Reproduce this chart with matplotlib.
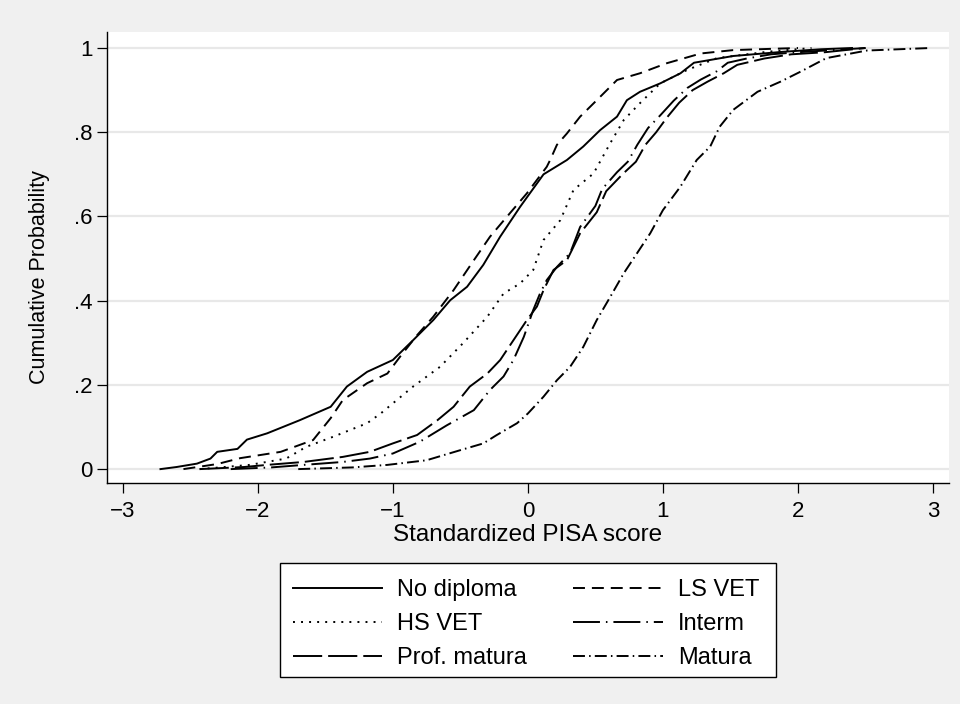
import matplotlib
matplotlib.use("Agg")
import matplotlib.pyplot as plt
from matplotlib.patches import Rectangle

plt.rcParams['font.family'] = ['Liberation Sans', 'DejaVu Sans']
plt.rcParams['lines.scale_dashes'] = False

nodip_x = [-2.72, -2.6, -2.45, -2.35, -2.3, -2.15, -2.08, -1.93, -1.69, -1.46, -1.34, -1.19, -1.0, -0.85,
           -0.70, -0.575, -0.45, -0.33, -0.205, -0.057, 0.116, 0.289, 0.41, 0.535, 0.66, 0.733, 0.83,
           0.98, 1.13, 1.23, 1.52, 1.89, 2.17, 2.4]
nodip_y = [0.0, 0.005, 0.013, 0.025, 0.041, 0.048, 0.07, 0.085, 0.116, 0.148, 0.196, 0.231, 0.259, 0.306,
           0.354, 0.401, 0.433, 0.485, 0.552, 0.623, 0.700, 0.734, 0.766, 0.805, 0.837, 0.876, 0.896,
           0.916, 0.940, 0.965, 0.981, 0.991, 0.997, 1.0]

lsvet_x = [-2.55, -2.3, -2.13, -1.83, -1.59, -1.46, -1.37, -1.19, -1.04, -0.946, -0.82, -0.70, -0.55,
           -0.40, -0.28, -0.156, -0.007, 0.14, 0.165, 0.215, 0.289, 0.387, 0.51, 0.66, 0.83, 1.03, 1.28,
           1.52, 1.8, 2.0]
lsvet_y = [0.0, 0.012, 0.026, 0.041, 0.069, 0.121, 0.164, 0.204, 0.227, 0.267, 0.318, 0.362, 0.425,
           0.496, 0.552, 0.599, 0.655, 0.718, 0.734, 0.770, 0.797, 0.837, 0.876, 0.924, 0.940, 0.964, 0.987,
           0.995, 0.998, 1.0]

hsvet_x = [-2.43, -2.06, -1.79, -1.64, -1.44, -1.19, -1.09, -0.85, -0.65, -0.48, -0.30, -0.18, -0.057,
           0.04, 0.09, 0.116, 0.24, 0.338, 0.486, 0.61, 0.71, 0.83, 0.98, 1.18, 1.40, 1.77, 2.1]
hsvet_y = [0.0, 0.01, 0.025, 0.053, 0.077, 0.109, 0.132, 0.196, 0.243, 0.299, 0.362, 0.417, 0.441,
           0.473, 0.52, 0.544, 0.591, 0.663, 0.702, 0.774, 0.829, 0.869, 0.916, 0.948, 0.976, 0.991, 1.0]

interm_x = [-2.2, -1.9, -1.66, -1.37, -1.17, -1.0, -0.80, -0.60, -0.40, -0.28, -0.18, -0.107, -0.03,
            0.04, 0.09, 0.14, 0.215, 0.313, 0.387, 0.50, 0.55, 0.66, 0.74, 0.81, 0.89, 0.98, 1.08, 1.18,
            1.28, 1.40, 1.48, 1.62, 1.8, 2.0, 2.3, 2.5]
interm_y = [0.0, 0.004, 0.01, 0.017, 0.025, 0.037, 0.065, 0.104, 0.140, 0.188, 0.22, 0.259, 0.314,
            0.378, 0.417, 0.449, 0.48, 0.513, 0.575, 0.625, 0.665, 0.705, 0.73, 0.77, 0.81, 0.84, 0.875,
            0.905, 0.925, 0.945, 0.965, 0.975, 0.985, 0.99, 0.996, 1.0]

profmat_x = [-2.43, -2.1, -1.93, -1.66, -1.37, -1.17, -1.0, -0.82, -0.67, -0.55, -0.43, -0.30, -0.205,
             -0.107, -0.007, 0.067, 0.116, 0.19, 0.289, 0.387, 0.51, 0.58, 0.70, 0.80, 0.87, 0.95, 1.03,
             1.12, 1.22, 1.33, 1.45, 1.55, 1.75, 1.95, 2.2, 2.5]
profmat_y = [0.0, 0.005, 0.01, 0.017, 0.029, 0.041, 0.061, 0.081, 0.116, 0.148, 0.196, 0.227, 0.259,
             0.306, 0.354, 0.386, 0.425, 0.473, 0.496, 0.56, 0.61, 0.66, 0.70, 0.73, 0.77, 0.80, 0.835,
             0.87, 0.90, 0.92, 0.94, 0.96, 0.975, 0.985, 0.99, 1.0]

matura_x = [-1.7, -1.3, -1.04, -0.75, -0.50, -0.33, -0.23, -0.08, 0.0, 0.116, 0.215, 0.313, 0.41, 0.51,
            0.61, 0.71, 0.807, 0.906, 1.0, 1.13, 1.25, 1.35, 1.42, 1.52, 1.70, 1.87, 2.02, 2.21, 2.51, 2.98]
matura_y = [0.0, 0.004, 0.01, 0.021, 0.045, 0.061, 0.081, 0.109, 0.132, 0.172, 0.211, 0.243, 0.29, 0.354,
            0.409, 0.465, 0.512, 0.56, 0.615, 0.671, 0.734, 0.766, 0.813, 0.853, 0.896, 0.92, 0.944, 0.976,
            0.994, 1.0]

yticks = [0, 0.2, 0.4, 0.6, 0.8, 1]
ytick_labels = ["0", ".2", ".4", ".6", ".8", "1"]
xticks = [-3, -2, -1, 0, 1, 2, 3]

fig = plt.figure(figsize=(9.6, 7.04), dpi=100)
fig.patch.set_facecolor('#f0f0f0')
ax = fig.add_axes([107/960, 1 - 483/704, 842/960, 451/704])
ax.set_facecolor('white')

lw = 1.4
l_nodip, = ax.plot(nodip_x, nodip_y, color='black', lw=lw, linestyle='-')
l_lsvet, = ax.plot(lsvet_x, lsvet_y, color='black', lw=lw, linestyle=(0, (8.6, 5.0)))
l_hsvet, = ax.plot(hsvet_x, hsvet_y, color='black', lw=lw, linestyle=(0, (1.4, 4.4)))
l_interm, = ax.plot(interm_x, interm_y, color='black', lw=lw, linestyle=(0, (19.4, 4.3, 1.1, 4.3)))
l_profmat, = ax.plot(profmat_x, profmat_y, color='black', lw=lw, linestyle=(0, (21.0, 4.3)))
l_matura, = ax.plot(matura_x, matura_y, color='black', lw=lw, linestyle=(0, (8.6, 3.0, 1.1, 3.0)))

ax.set_xlim(-3.116, 3.118)
ax.set_ylim(-0.033, 1.038)
ax.set_xticks(xticks)
ax.set_yticks(yticks)
ax.set_yticklabels(ytick_labels)
ax.grid(axis='y', color='#e8e8e8', lw=1.6)
ax.set_axisbelow(True)
for s in ['top', 'right']:
    ax.spines[s].set_visible(False)
for s in ['left', 'bottom']:
    ax.spines[s].set_linewidth(1.0)
ax.tick_params(axis='both', direction='out', length=7, width=0.9, labelsize=16)
ax.tick_params(axis='x', pad=6)
ax.tick_params(axis='y', pad=3.5)

ax.set_xlabel("Standardized PISA score", fontsize=17.5)
ax.xaxis.set_label_coords(0.5, -0.091)
ax.set_ylabel("Cumulative Probability", fontsize=15.5)
ax.yaxis.set_label_coords(-0.068, 0.456)

fig.add_artist(Rectangle((280/960, 1 - 677/704), 496/960, 114/704, transform=fig.transFigure,
                         facecolor='white', edgecolor='black', lw=1.0))
handles = [l_nodip, l_hsvet, l_profmat, l_lsvet, l_interm, l_matura]
labels = ["No diploma", "HS VET", "Prof. matura", "LS VET", "Interm", "Matura"]
fig.legend(handles, labels, loc='center', bbox_to_anchor=(526/960, 1 - 624/704), ncol=2,
           frameon=False, fontsize=17, handlelength=3.8, handletextpad=0.64, columnspacing=1.95,
           labelspacing=0.5)

fig.savefig("out.png", dpi=100, facecolor=fig.get_facecolor())
